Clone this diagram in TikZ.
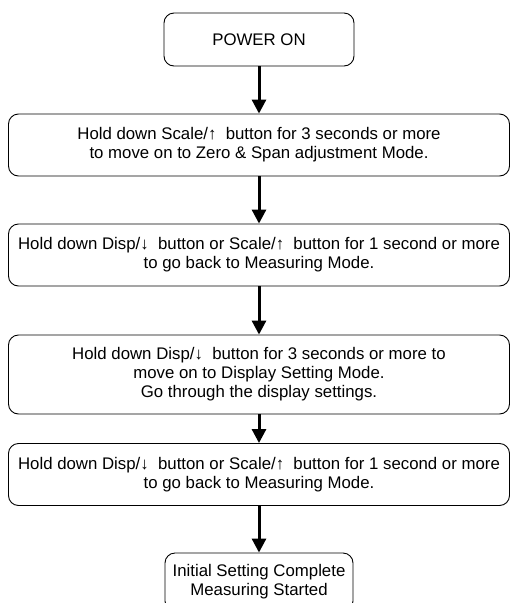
\documentclass[tikz,border=0pt]{standalone}
\usepackage{fontspec}
\setmainfont{Liberation Sans}
\usetikzlibrary{arrows.meta,positioning}

\tikzset{
	stepbox/.style={draw, line width=0.9pt, rounded corners=10pt, align=center, inner sep=0pt,
		font=\fontsize{16.8}{19}\selectfont},
	flow/.style={line width=3pt, -{Triangle[width=14pt,length=14pt]}}
}

\begin{document}
\begin{tikzpicture}[x=1pt, y=1pt]
		%%%%% START %%%%%
		
		\clip (0, 0) rectangle (510, -603);
		
		\node[stepbox, minimum width=190pt, minimum height=53pt] (power) at (259, -39.5) {POWER ON};
		\node[stepbox, minimum width=501pt, minimum height=62pt] (zerospan) at (259, -145) {Hold down Scale/↑\ \ button for 3 seconds or more\\to move on to Zero \& Span adjustment Mode.};
		\node[stepbox, minimum width=501pt, minimum height=62pt] (backone) at (259, -255) {Hold down Disp/↓\ \ button or Scale/↑\ \ button for 1 second or more\\to go back to Measuring Mode.};
		\node[stepbox, minimum width=501pt, minimum height=79pt] (display) at (259, -374.5) {Hold down Disp/↓\ \ button for 3 seconds or more to\\move on to Display Setting Mode.\\Go through the display settings.};
		\node[stepbox, minimum width=501pt, minimum height=62pt] (backtwo) at (259, -474.5) {Hold down Disp/↓\ \ button or Scale/↑\ \ button for 1 second or more\\to go back to Measuring Mode.};
		\node[stepbox, minimum width=188pt, minimum height=58pt] (done) at (259, -582) {Initial Setting Complete\\Measuring Started};
		
		\draw[flow] (power) -- (zerospan);
		\draw[flow] (zerospan) -- (backone);
		\draw[flow] (backone) -- (display);
		\draw[flow] (display) -- (backtwo);
		\draw[flow] (backtwo) -- (done);
		
		%%%%% END %%%%%
	\end{tikzpicture}
\end{document}
